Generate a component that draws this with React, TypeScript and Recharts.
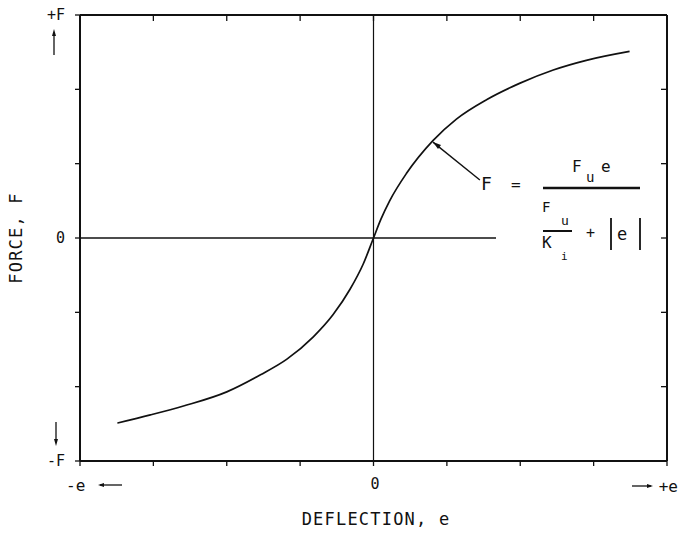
import { LineChart, Line, XAxis, YAxis, ReferenceLine } from "recharts";

// curve (deflection e, force F), in tick units
const DEFLECTION = [
  -3.49, -3.04, -2.59, -2.0, -1.54, -1.18, -0.82, -0.55, -0.32, -0.14, 0,
  0.1, 0.22, 0.45, 0.81, 1.13, 1.54, 1.99, 2.45, 2.9, 3.49,
];
const FORCE = [
  -2.49, -2.38, -2.26, -2.07, -1.84, -1.63, -1.33, -1.03, -0.69, -0.35, 0,
  0.25, 0.5, 0.87, 1.31, 1.6, 1.86, 2.08, 2.26, 2.39, 2.51,
];

const X_TICKS = [-4, -3, -2, -1, 0, 1, 2, 3, 4];
const Y_TICKS = [-3, -2, -1, 0, 1, 2, 3];
const Y_LABELS: Record<string, string> = { "-3": "-F", "0": "0", "3": "+F" };
const X_LABELS: Record<string, string> = { "-4": "-e", "0": "0", "4": "+e" };

// leader from the curve to the equation
const LEADER_E = [0.81, 1.45];
const LEADER_F = [1.29, 0.78];
const ZERO_LINE_END = 1.67;

const FONT = '"DejaVu Sans Mono", monospace';
const INK = "#111";
const PLOT_TOP = 15;
const PLOT_RIGHT = 667;

const data = DEFLECTION.map((e, i) => ({ e, f: FORCE[i] }));

function XTickLabel({ x, value }: { x: number; value: number }) {
  const label = X_LABELS[String(value)];
  if (!label) return null;
  if (value < 0) {
    return (
      <g>
        <text x={x - 14} y={491} fontFamily={FONT} fontSize={16} fill={INK}>
          {label}
        </text>
        <line x1={x + 20} y1={485} x2={x + 42} y2={485} stroke={INK} strokeWidth={1.3} />
        <polygon points={`${x + 18},485 ${x + 24},483 ${x + 24},487`} fill={INK} />
      </g>
    );
  }
  if (value > 0) {
    return (
      <g>
        <line x1={x - 35} y1={486} x2={x - 16} y2={486} stroke={INK} strokeWidth={1.3} />
        <polygon points={`${x - 14},486 ${x - 20},484 ${x - 20},488`} fill={INK} />
        <text x={x + 11} y={492} fontFamily={FONT} fontSize={16} fill={INK} textAnchor="end">
          {label}
        </text>
      </g>
    );
  }
  return (
    <text x={x + 1.5} y={489} fontFamily={FONT} fontSize={15} fill={INK} textAnchor="middle">
      {label}
    </text>
  );
}

// bottom tick label, plus the matching inward tick on the top of the frame
function XTick(props: any) {
  const { x, payload } = props;
  return (
    <g>
      <line x1={x} y1={PLOT_TOP} x2={x} y2={PLOT_TOP + 6} stroke={INK} strokeWidth={1.3} />
      <XTickLabel x={x} value={payload.value} />
    </g>
  );
}

// left tick label, plus the matching inward tick on the right of the frame
function YTick(props: any) {
  const { y, payload } = props;
  const label = Y_LABELS[String(payload.value)];
  return (
    <g>
      <line x1={PLOT_RIGHT - 6} y1={y} x2={PLOT_RIGHT} y2={y} stroke={INK} strokeWidth={1.3} />
      {label && (
        <text x={65} y={y + 5} fontFamily={FONT} fontSize={15} fill={INK} textAnchor="end">
          {label}
        </text>
      )}
    </g>
  );
}

export default function App() {
  return (
    <div style={{ position: "absolute", left: 0, top: 0, width: 678, height: 535, background: "#fff" }}>
      <LineChart
        width={678}
        height={535}
        data={data}
        margin={{ top: PLOT_TOP, right: 678 - PLOT_RIGHT, left: 0, bottom: 0 }}
      >
        <XAxis
          type="number"
          dataKey="e"
          domain={[-4, 4]}
          ticks={X_TICKS}
          interval={0}
          allowDataOverflow
          height={74}
          tickSize={5}
          tick={<XTick />}
          axisLine={{ stroke: INK, strokeWidth: 2 }}
          tickLine={{ stroke: INK, strokeWidth: 1.3 }}
        />
        <YAxis
          type="number"
          domain={[-3, 3]}
          ticks={Y_TICKS}
          interval={0}
          allowDataOverflow
          width={80}
          tickSize={5}
          tick={<YTick />}
          axisLine={{ stroke: INK, strokeWidth: 2 }}
          tickLine={{ stroke: INK, strokeWidth: 1.3 }}
        />
        {/* top and right sides of the frame */}
        <ReferenceLine y={3} stroke={INK} strokeWidth={2} />
        <ReferenceLine x={4} stroke={INK} strokeWidth={2} />
        <ReferenceLine x={0} stroke={INK} strokeWidth={1.2} />
        <ReferenceLine
          segment={[
            { x: -4, y: 0 },
            { x: ZERO_LINE_END, y: 0 },
          ]}
          stroke={INK}
          strokeWidth={1.5}
        />
        <ReferenceLine
          segment={[
            { x: LEADER_E[0], y: LEADER_F[0] },
            { x: LEADER_E[1], y: LEADER_F[1] },
          ]}
          stroke={INK}
          strokeWidth={1.4}
        />
        <Line
          type="monotone"
          dataKey="f"
          stroke={INK}
          strokeWidth={1.7}
          dot={false}
          isAnimationActive={false}
        />
      </LineChart>
      <svg
        width={678}
        height={535}
        style={{ position: "absolute", left: 0, top: 0, pointerEvents: "none" }}
        fontFamily={FONT}
        fill={INK}
      >
        {/* axis titles */}
        <text x={376} y={525} fontSize={17} textAnchor="middle" letterSpacing={1.2}>
          DEFLECTION, e
        </text>
        <text
          x={0}
          y={0}
          fontSize={17}
          textAnchor="middle"
          letterSpacing={1.2}
          transform="translate(22 238) rotate(-90)"
        >
          FORCE, F
        </text>
        {/* arrows beside +F / -F */}
        <line x1={54} y1={55} x2={54} y2={33} stroke={INK} strokeWidth={1.3} />
        <polygon points="54,29 52,36 56,36" />
        <line x1={56} y1={422} x2={56} y2={442} stroke={INK} strokeWidth={1.3} />
        <polygon points="56,446 54,439 58,439" />
        {/* pointer head where the leader meets the curve */}
        <polygon points="433,142 441,145 438,149" />
        {/* equation */}
        <text x={481} y={190} fontSize={18}>F</text>
        <text x={511} y={190} fontSize={16}>=</text>
        <line x1={543} y1={188} x2={640} y2={188} stroke={INK} strokeWidth={2.5} />
        <text x={572} y={172} fontSize={16}>F</text>
        <text x={586} y={182} fontSize={14}>u</text>
        <text x={601} y={172} fontSize={16}>e</text>
        <text x={542} y={212} fontSize={14}>F</text>
        <text x={561} y={225} fontSize={13}>u</text>
        <line x1={543} y1={231} x2={572} y2={231} stroke={INK} strokeWidth={2} />
        <text x={542} y={248} fontSize={16}>K</text>
        <text x={561} y={260} fontSize={11}>i</text>
        <text x={586} y={238} fontSize={15}>+</text>
        <line x1={611} y1={218} x2={611} y2={250} stroke={INK} strokeWidth={1.8} />
        <text x={617} y={240} fontSize={17}>e</text>
        <line x1={640} y1={218} x2={640} y2={250} stroke={INK} strokeWidth={1.8} />
      </svg>
    </div>
  );
}
